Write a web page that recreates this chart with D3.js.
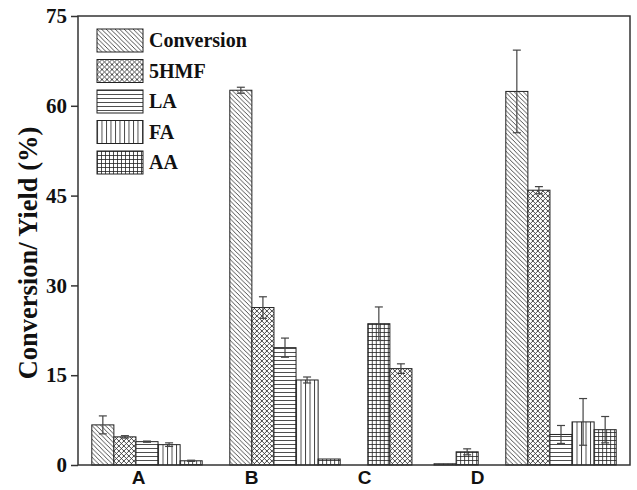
<!DOCTYPE html>
<html>
<head>
<meta charset="utf-8">
<script src="https://cdn.jsdelivr.net/npm/d3@7"></script>
<style>
  body { margin: 0; background: #fff; }
</style>
</head>
<body>
<div id="container"></div>
<script>
// data
var groups = ["A", "B", "C", "D"];
var series = ["Conversion", "5HMF", "LA", "FA", "AA"];
var conversion = [6.7, 62.6, 23.6, 62.4];
var hmf        = [4.7, 26.3, 16.1, 45.9];
var la         = [3.9, 19.6, 0.0, 5.1];
var fa         = [3.4, 14.2, 0.2, 7.2];
var aa         = [0.7, 1.0, 2.2, 5.9];
var convErr = [1.5, 0.5, 2.8, 6.9];
var hmfErr  = [0.2, 1.8, 0.8, 0.6];
var laErr   = [0.1, 1.6, 0.0, 1.5];
var faErr   = [0.3, 0.5, 0.0, 3.9];
var aaErr   = [0.1, 0.0, 0.5, 2.2];
var yTicks = [0, 15, 30, 45, 60, 75];

var values = [conversion, hmf, la, fa, aa];
var errors = [convErr, hmfErr, laErr, faErr, aaErr];

var W = 637, H = 490;
var margin = {top: 16, right: 7, bottom: 25, left: 78},
    width = W - margin.left - margin.right,
    height = H - margin.top - margin.bottom;

var svg = d3.select("#container")
  .append("svg")
    .attr("width", W)
    .attr("height", H);

// hatch patterns
var defs = svg.append("defs");
function pattern(id, size, draw) {
  var p = defs.append("pattern")
    .attr("id", id)
    .attr("patternUnits", "userSpaceOnUse")
    .attr("width", size)
    .attr("height", size);
  p.append("rect").attr("width", size).attr("height", size).attr("fill", "#fff");
  draw(p, size);
}
var hatchStroke = "#222";
pattern("p-Conversion", 4.5, function(p, s) {
  p.append("path").attr("d", "M0,0 L" + s + "," + s + " M" + (-s) + ",0 L0," + s + " M" + s + ",0 L" + (2 * s) + "," + s)
    .attr("stroke", hatchStroke).attr("stroke-width", 0.8);
});
pattern("p-5HMF", 5, function(p, s) {
  p.append("path").attr("d", "M0,0 L" + s + "," + s + " M0," + s + " L" + s + ",0")
    .attr("stroke", hatchStroke).attr("stroke-width", 0.8);
});
pattern("p-LA", 4, function(p, s) {
  p.append("path").attr("d", "M0,0.5 L" + s + ",0.5")
    .attr("stroke", hatchStroke).attr("stroke-width", 0.8);
});
pattern("p-FA", 4.5, function(p, s) {
  p.append("path").attr("d", "M0.5,0 L0.5," + s)
    .attr("stroke", hatchStroke).attr("stroke-width", 0.8);
});
pattern("p-AA", 4, function(p, s) {
  p.append("path").attr("d", "M0,0.5 L" + s + ",0.5 M0.5,0 L0.5," + s)
    .attr("stroke", hatchStroke).attr("stroke-width", 0.8);
});

var g = svg.append("g")
  .attr("transform", "translate(" + margin.left + "," + margin.top + ")");

// scales
var x0 = d3.scaleBand()
  .domain(groups)
  .range([0, width])
  .paddingInner(0.2)
  .paddingOuter(0.1);

var x1 = d3.scaleBand()
  .domain(series)
  .range([0, x0.bandwidth()]);

// category labels sit a bit left of the bar groups in the original
var xLab = d3.scalePoint()
  .domain(groups)
  .range([60, 399]);

var y = d3.scaleLinear()
  .domain([0, 75])
  .range([height, 0]);

// bars
var rows = [];
groups.forEach(function(gr, i) {
  series.forEach(function(s, j) {
    rows.push({group: gr, series: s, value: values[j][i], err: errors[j][i]});
  });
});

var bar = g.selectAll(".bar")
  .data(rows)
  .enter()
  .append("g")
    .attr("transform", function(d) { return "translate(" + (x0(d.group) + x1(d.series)) + ",0)"; });

bar.filter(function(d) { return d.value > 0; })
  .append("rect")
    .attr("x", 0)
    .attr("y", function(d) { return y(d.value); })
    .attr("width", x1.bandwidth())
    .attr("height", function(d) { return y(0) - y(d.value); })
    // the source figure draws C's conversion bar with the AA grid
    .attr("fill", function(d) {
      var k = (d.group === "C" && d.series === "Conversion") ? "AA" : d.series;
      return "url(#p-" + k + ")";
    })
    .attr("stroke", "#222")
    .attr("stroke-width", 1);

// error bars
var eb = bar.filter(function(d) { return d.err > 0; });
var cx = x1.bandwidth() / 2;
eb.append("line")
  .attr("x1", cx).attr("x2", cx)
  .attr("y1", function(d) { return y(d.value + d.err); })
  .attr("y2", function(d) { return y(d.value - d.err); })
  .attr("stroke", "#444").attr("stroke-width", 1.2);
eb.append("line")
  .attr("x1", cx - 4).attr("x2", cx + 4)
  .attr("y1", function(d) { return y(d.value + d.err); })
  .attr("y2", function(d) { return y(d.value + d.err); })
  .attr("stroke", "#444").attr("stroke-width", 1.2);
eb.append("line")
  .attr("x1", cx - 4).attr("x2", cx + 4)
  .attr("y1", function(d) { return y(d.value - d.err); })
  .attr("y2", function(d) { return y(d.value - d.err); })
  .attr("stroke", "#444").attr("stroke-width", 1.2);

// frame
g.append("rect")
  .attr("width", width)
  .attr("height", height)
  .attr("fill", "none")
  .attr("stroke", "#333")
  .attr("stroke-width", 1.5);

// Y axis
var yAxis = g.append("g")
  .call(d3.axisLeft(y).tickValues(yTicks).tickSize(7).tickPadding(4));
yAxis.select(".domain").remove();
yAxis.selectAll("line").attr("stroke", "#333").attr("stroke-width", 1.5);
yAxis.selectAll("text")
  .style("font-family", "'Liberation Serif', 'Times New Roman', serif")
  .style("font-weight", "bold")
  .style("font-size", "21px")
  .attr("fill", "#111");

// X labels
var xAxis = g.append("g")
  .attr("transform", "translate(0," + height + ")")
  .call(d3.axisBottom(xLab).tickSize(0).tickPadding(6));
xAxis.select(".domain").remove();
xAxis.selectAll("text")
  .style("font-family", "'Liberation Sans', Arial, sans-serif")
  .style("font-weight", "bold")
  .style("font-size", "19px")
  .attr("fill", "#111");

// Y title
svg.append("text")
  .attr("transform", "translate(37,253)rotate(-90)")
  .attr("text-anchor", "middle")
  .style("font-family", "'Liberation Serif', 'Times New Roman', serif")
  .style("font-weight", "bold")
  .style("font-size", "26.5px")
  .attr("fill", "#111")
  .text("Conversion/ Yield (%)");

// legend
var legend = g.append("g")
  .attr("transform", "translate(19,13)");
var li = legend.selectAll(".li")
  .data(series)
  .enter()
  .append("g")
    .attr("transform", function(d, i) { return "translate(0," + (i * 30.5) + ")"; });
li.append("rect")
  .attr("width", 46)
  .attr("height", 23)
  .attr("fill", function(d) { return "url(#p-" + d + ")"; })
  .attr("stroke", "#222")
  .attr("stroke-width", 1);
li.append("text")
  .attr("x", 52)
  .attr("y", 18)
  .style("font-family", "'Liberation Serif', 'Times New Roman', serif")
  .style("font-weight", "bold")
  .style("font-size", "20px")
  .attr("fill", "#111")
  .text(function(d) { return d; });
</script>
</body>
</html>
